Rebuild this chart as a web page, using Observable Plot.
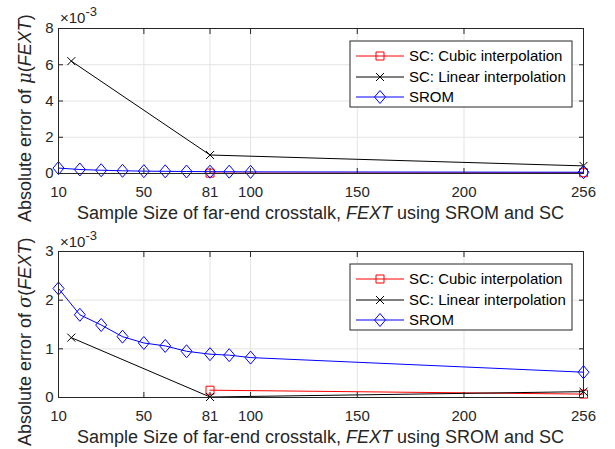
<!DOCTYPE html>
<html>
<head>
<meta charset="utf-8">
<script src="https://cdn.jsdelivr.net/npm/d3@7"></script>
<script src="https://cdn.jsdelivr.net/npm/@observablehq/plot@0.6"></script>
<style>
  html, body { margin: 0; padding: 0; background: #fff; }
  #chart svg { display: block; }
</style>
</head>
<body>
<div id="chart"></div>
<script>
// ---- data (errors in units of 1e-3) ----
const xTicks = [10, 50, 81, 100, 150, 200, 256];
const yTicksMu = [0, 2, 4, 6, 8];
const yTicksSigma = [0, 1, 2, 3];

const sromN = [10, 20, 30, 40, 50, 60, 70, 81, 90, 100, 256];
const linearN = [16, 81, 256];
const cubicN = [81, 256];

const sromMu = [0.30, 0.22, 0.18, 0.15, 0.13, 0.12, 0.11, 0.10, 0.10, 0.09, 0.07];
const linearMu = [6.2, 1.02, 0.42];
const cubicMu = [0.02, 0.04];

const sromSigma = [2.24, 1.70, 1.49, 1.25, 1.12, 1.06, 0.95, 0.89, 0.87, 0.82, 0.52];
const linearSigma = [1.23, 0.01, 0.12];
const cubicSigma = [0.15, 0.07];

const seriesNames = ["SC: Cubic interpolation", "SC: Linear interpolation", "SROM"];
const seriesColors = ["#ff0000", "#000000", "#0000ff"];

// ---- marker shapes ----
const squareSym = {draw(ctx) { const s = 4; ctx.moveTo(-s, -s); ctx.lineTo(s, -s); ctx.lineTo(s, s); ctx.lineTo(-s, s); ctx.closePath(); }};
const timesSym = {draw(ctx) { const s = 4; ctx.moveTo(-s, -s); ctx.lineTo(s, s); ctx.moveTo(s, -s); ctx.lineTo(-s, s); }};
const diamondSym = {draw(ctx) { const w = 5.5, h = 6.5; ctx.moveTo(0, -h); ctx.lineTo(w, 0); ctx.lineTo(0, h); ctx.lineTo(-w, 0); ctx.closePath(); }};
const symbols = [squareSym, timesSym, diamondSym];

const FONT = "'Liberation Sans', Arial, Helvetica, sans-serif";
const TXT = "#262626";

function toRows(xs, ys) { return xs.map((x, i) => ({x, y: ys[i]})); }

function panel({height, marginTop, marginBottom, yMax, yTicks, cubic, linear, srom, greek}) {
  const series = [toRows(cubicN, cubic), toRows(linearN, linear), toRows(sromN, srom)];
  const marks = [
    Plot.gridX(xTicks, {stroke: "#e3e3e3", strokeOpacity: 1}),
    Plot.gridY(yTicks, {stroke: "#e3e3e3", strokeOpacity: 1}),
  ];
  series.forEach((rows, i) => {
    marks.push(Plot.line(rows, {x: "x", y: "y", stroke: seriesColors[i], strokeWidth: 1}));
    marks.push(Plot.dot(rows, {x: "x", y: "y", symbol: symbols[i], stroke: seriesColors[i], fill: "none", strokeWidth: 1}));
  });
  marks.push(
    Plot.frame({stroke: TXT, strokeWidth: 1}),
    Plot.axisX(xTicks, {anchor: "bottom", tickSize: 0, tickPadding: 13, fontSize: 15, fill: TXT}),
    Plot.axisX(xTicks, {anchor: "bottom", tickSize: -5, fill: "none", stroke: TXT}),
    Plot.axisX(xTicks, {anchor: "top", tickSize: -5, fill: "none", stroke: TXT}),
    Plot.axisY(yTicks, {anchor: "left", tickSize: 0, tickPadding: 5, fontSize: 15, fill: TXT}),
    Plot.axisY(yTicks, {anchor: "left", tickSize: -5, fill: "none", stroke: TXT}),
    Plot.axisY(yTicks, {anchor: "right", tickSize: -5, fill: "none", stroke: TXT})
  );
  const svg = Plot.plot({
    width: 615,
    height,
    marginTop,
    marginBottom,
    marginLeft: 58,
    marginRight: 32,
    style: {fontFamily: FONT, fontSize: "15px", color: TXT, background: "#fff"},
    x: {type: "linear", domain: [10, 256], label: null},
    y: {type: "linear", domain: [0, yMax], label: null},
    marks
  });

  const s = d3.select(svg);
  // exponent label
  const ex = s.append("text").attr("x", 60).attr("y", 23).attr("text-anchor", "start")
    .attr("font-family", FONT).attr("font-size", 15).attr("fill", TXT);
  ex.append("tspan").text("\u00d710");
  ex.append("tspan").attr("font-size", 13).attr("dy", -7).text("-3");

  // y label
  const yl = s.append("text")
    .attr("transform", "translate(31,222) rotate(-90)")
    .attr("text-anchor", "start")
    .attr("font-family", FONT).attr("font-size", 18).attr("fill", TXT);
  yl.append("tspan").text("Absolute error of ");
  yl.append("tspan").attr("font-style", "italic").attr("font-family", "'DejaVu Serif', serif").text(greek);
  yl.append("tspan").text("(");
  yl.append("tspan").attr("font-style", "italic").text("FEXT");
  yl.append("tspan").text(")");

  // x label
  const xl = s.append("text")
    .attr("x", 320.5).attr("y", 219)
    .attr("text-anchor", "middle")
    .attr("font-family", FONT).attr("font-size", 18).attr("fill", TXT);
  xl.append("tspan").text("Sample Size of far-end crosstalk, ");
  xl.append("tspan").attr("font-style", "italic").text("FEXT");
  xl.append("tspan").text(" using SROM and SC");

  // legend
  const top = marginTop + 13;
  const lg = s.append("g").attr("text-anchor", "start");
  lg.append("rect").attr("x", 350).attr("y", top).attr("width", 222).attr("height", 66)
    .attr("fill", "#fff").attr("stroke", TXT).attr("stroke-width", 1);
  const rowY = [15, 36, 56];
  seriesNames.forEach((name, i) => {
    const y = top + rowY[i];
    lg.append("line").attr("x1", 356).attr("x2", 404).attr("y1", y).attr("y2", y)
      .attr("stroke", seriesColors[i]).attr("stroke-width", 1);
    lg.append("path").attr("d", d3.symbol(symbols[i])())
      .attr("transform", `translate(380,${y})`)
      .attr("fill", "none").attr("stroke", seriesColors[i]).attr("stroke-width", 1);
    lg.append("text").attr("x", 409).attr("y", y).attr("dy", "0.35em").attr("text-anchor", "start")
      .attr("font-family", FONT).attr("font-size", 15).attr("fill", "#000").text(name);
  });
  return svg;
}

const root = document.getElementById("chart");
root.appendChild(panel({height: 224, marginTop: 28, marginBottom: 51, yMax: 8, yTicks: yTicksMu,
  cubic: cubicMu, linear: linearMu, srom: sromMu, greek: "\u03bc"}));
root.appendChild(panel({height: 225, marginTop: 27, marginBottom: 52, yMax: 3, yTicks: yTicksSigma,
  cubic: cubicSigma, linear: linearSigma, srom: sromSigma, greek: "\u03c3"}));
</script>
</body>
</html>
